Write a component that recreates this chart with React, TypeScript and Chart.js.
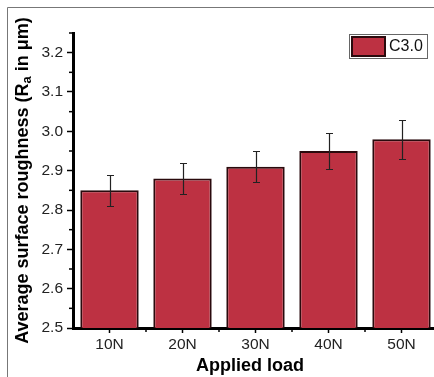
import React, { useEffect, useRef } from 'react';
import { Chart, registerables } from 'chart.js';

Chart.register(...registerables);

const categories = ['10N', '20N', '30N', '40N', '50N'];
const roughness = [2.85, 2.88, 2.91, 2.95, 2.98];
const roughnessError = [0.04, 0.04, 0.04, 0.045, 0.05];
const seriesLabel = 'C3.0';
const xTitle = 'Applied load';
const yTitleMain = 'Average surface roughness (R';
const yTitleSub = 'a';
const yTitleEnd = ' in μm)';
const yMin = 2.5;
const yMax = 3.25;
const yStep = 0.1;

const BAR_FILL = '#bd3142';
const BAR_EDGE = '#2a0a0d';
const FONT = '"Liberation Sans", Arial, sans-serif';

const decorPlugin = {
  id: 'decor',
  beforeDraw(chart: any) {
    const ctx = chart.ctx;
    ctx.save();
    ctx.strokeStyle = '#777';
    ctx.lineWidth = 1;
    ctx.beginPath();
    ctx.moveTo(7.5, 400);
    ctx.lineTo(7.5, 7.5);
    ctx.lineTo(460, 7.5);
    ctx.stroke();
    ctx.restore();
  },
  afterDatasetsDraw(chart: any) {
    const ctx = chart.ctx;
    const y = chart.scales.y;
    const x = chart.scales.x;
    const meta = chart.getDatasetMeta(0);
    ctx.save();
    ctx.strokeStyle = '#222';
    ctx.lineWidth = 1.2;
    meta.data.forEach((bar: any, i: number) => {
      const v = roughness[i];
      const e = roughnessError[i];
      const yt = Math.round(y.getPixelForValue(v + e)) + 0.5;
      const yb = Math.round(y.getPixelForValue(v - e)) + 0.5;
      const cx = Math.round(bar.x) + 0.5;
      ctx.beginPath();
      ctx.moveTo(cx, yt);
      ctx.lineTo(cx, yb);
      ctx.moveTo(cx - 3.5, yt);
      ctx.lineTo(cx + 3.5, yt);
      ctx.moveTo(cx - 3.5, yb);
      ctx.lineTo(cx + 3.5, yb);
      ctx.stroke();
    });
    ctx.strokeStyle = '#000';
    ctx.lineWidth = 1.5;
    for (let k = 0; k < 8; k++) {
      const v = yMin + yStep / 2 + k * yStep;
      if (v > yMax) break;
      const py = y.getPixelForValue(v);
      ctx.beginPath();
      ctx.moveTo(x.left - 4, py);
      ctx.lineTo(x.left, py);
      ctx.stroke();
    }
    const w = (x.right - x.left) / categories.length;
    for (let i = 1; i < categories.length; i++) {
      const px = x.left + i * w;
      ctx.beginPath();
      ctx.moveTo(px, y.bottom);
      ctx.lineTo(px, y.bottom + 4);
      ctx.stroke();
    }
    ctx.restore();
  },
  afterDraw(chart: any) {
    const ctx = chart.ctx;
    const area = chart.chartArea;
    ctx.save();
    ctx.fillStyle = '#000';
    ctx.font = `bold 18px ${FONT}`;
    ctx.textAlign = 'center';
    ctx.textBaseline = 'middle';
    ctx.fillText(xTitle, 250, 366);
    ctx.translate(23, (area.top + area.bottom) / 2);
    ctx.rotate(-Math.PI / 2);
    const mainFont = `bold 18px ${FONT}`;
    const subFont = `bold 13px ${FONT}`;
    ctx.font = mainFont;
    const w1 = ctx.measureText(yTitleMain).width;
    const w3 = ctx.measureText(yTitleEnd).width;
    ctx.font = subFont;
    const w2 = ctx.measureText(yTitleSub).width;
    let sx = -(w1 + w2 + w3) / 2;
    ctx.textAlign = 'left';
    ctx.font = mainFont;
    ctx.fillText(yTitleMain, sx, 0);
    sx += w1;
    ctx.font = subFont;
    ctx.fillText(yTitleSub, sx, 4);
    sx += w2;
    ctx.font = mainFont;
    ctx.fillText(yTitleEnd, sx, 0);
    ctx.restore();

    ctx.save();
    ctx.strokeStyle = '#666';
    ctx.lineWidth = 1;
    ctx.fillStyle = '#fff';
    ctx.fillRect(349.5, 34.5, 78, 24);
    ctx.strokeRect(349.5, 34.5, 78, 24);
    ctx.fillStyle = BAR_FILL;
    ctx.fillRect(352, 37, 33, 19);
    ctx.strokeStyle = BAR_EDGE;
    ctx.lineWidth = 2;
    ctx.strokeRect(352, 37, 33, 19);
    ctx.fillStyle = '#111';
    ctx.font = `16px ${FONT}`;
    ctx.textAlign = 'left';
    ctx.textBaseline = 'middle';
    ctx.fillText(seriesLabel, 389, 47);
    ctx.restore();
  },
};

export default function App() {
  const ref = useRef<HTMLCanvasElement | null>(null);
  useEffect(() => {
    if (!ref.current) return;
    const chart = new Chart(ref.current, {
      type: 'bar',
      data: {
        labels: categories,
        datasets: [
          {
            label: seriesLabel,
            data: roughness,
            backgroundColor: BAR_FILL,
            borderColor: BAR_EDGE,
            borderWidth: 2,
            categoryPercentage: 1,
            barPercentage: 0.8,
          },
        ],
      },
      options: {
        responsive: false,
        animation: false,
        devicePixelRatio: 1,
        layout: { padding: { left: 0, top: 33, right: 2, bottom: 0 } },
        plugins: { legend: { display: false }, tooltip: { enabled: false } },
        scales: {
          x: {
            type: 'category',
            offset: true,
            grid: {
              display: true,
              drawOnChartArea: false,
              offset: false,
              tickLength: 5,
              tickColor: '#000',
              tickWidth: 1.5,
            },
            border: { display: true, color: '#000', width: 3 },
            ticks: { color: '#222', font: { family: FONT, size: 15.5 }, padding: 2 },
            afterFit: (s: any) => {
              s.height = 49;
            },
          },
          y: {
            type: 'linear',
            min: yMin,
            max: yMax,
            grid: {
              display: true,
              drawOnChartArea: false,
              tickLength: 6,
              tickColor: '#000',
              tickWidth: 1.5,
            },
            border: { display: true, color: '#000', width: 3 },
            ticks: {
              stepSize: yStep,
              color: '#222',
              font: { family: FONT, size: 15.5 },
              padding: 4,
              callback: (v: any) => Number(v).toFixed(1),
            },
            afterBuildTicks: (s: any) => {
              s.ticks = s.ticks.filter(
                (t: any) => Math.abs(t.value * 10 - Math.round(t.value * 10)) < 1e-6
              );
            },
            afterFit: (s: any) => {
              s.width = 73;
            },
          },
        },
      },
      plugins: [decorPlugin],
    });
    return () => chart.destroy();
  }, []);
  return (
    <div
      style={{
        position: 'fixed',
        left: 0,
        top: 0,
        width: 434,
        height: 377,
        overflow: 'hidden',
        background: '#fff',
      }}
    >
      <canvas ref={ref} width={440} height={377} style={{ display: 'block' }} />
    </div>
  );
}
